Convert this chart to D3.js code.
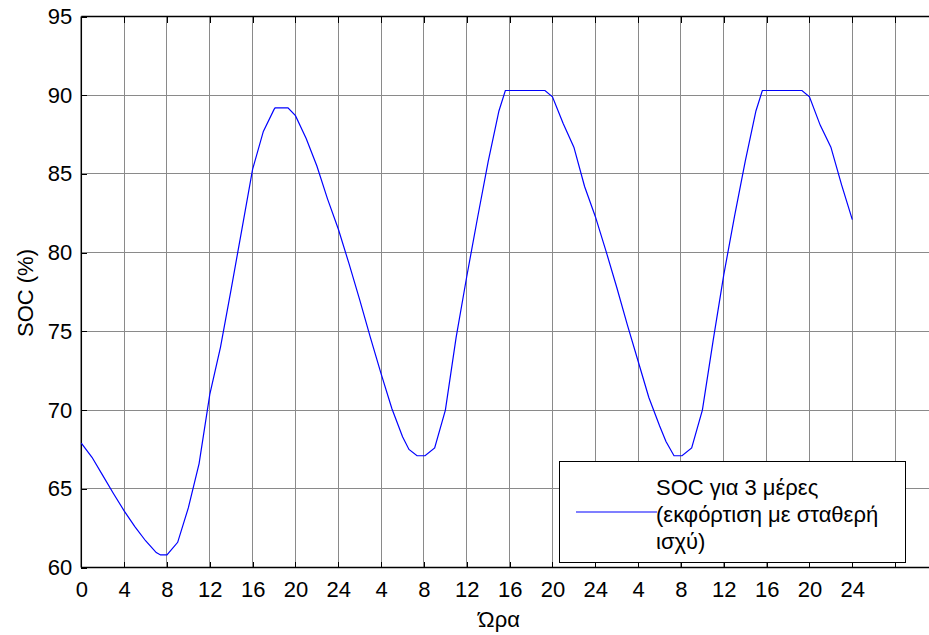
<!DOCTYPE html>
<html>
<head>
<meta charset="utf-8">
<script src="https://cdn.jsdelivr.net/npm/d3@7"></script>
<style>
  html, body { margin: 0; padding: 0; background: #fff; }
  svg { display: block; }
  text { font-family: "Liberation Sans", Arial, sans-serif; }
</style>
</head>
<body>
<script>
// ---- Data (hours over 3 days, SOC in %) ----
const hours = [0, 1, 2, 3, 4, 5, 6, 7, 7.4, 8, 9, 10, 11, 12, 13, 14, 15, 16, 17, 18, 18.1,
  19.3, 20, 21, 22, 23, 24, 25, 26, 27, 28, 29, 30, 30.6, 31.35, 32.1, 33, 34, 35, 36, 37, 38, 39, 39.6,
  43.3, 44, 45, 46, 47, 48, 49, 50, 51, 52, 53, 54, 54.6, 55.35, 56.1, 57, 58, 59, 60, 61, 62, 63, 63.6,
  67.3, 68, 69, 70, 71, 72];
const soc = [67.9, 67.0, 65.85, 64.7, 63.6, 62.6, 61.7, 60.95, 60.8, 60.8, 61.6, 63.8, 66.6, 71.0, 74.0, 77.7, 81.5, 85.3, 87.7, 89.1, 89.2,
  89.2, 88.7, 87.25, 85.5, 83.4, 81.5, 79.3, 77.0, 74.6, 72.3, 70.1, 68.3, 67.5, 67.1, 67.1, 67.6, 70.0, 74.6, 78.5, 82.2, 85.8, 89.0, 90.3,
  90.3, 89.9, 88.2, 86.7, 84.2, 82.3, 80.1, 77.8, 75.4, 73.1, 70.8, 69.0, 68.0, 67.1, 67.1, 67.6, 70.0, 74.4, 78.6, 82.3, 85.8, 89.0, 90.3,
  90.3, 89.9, 88.1, 86.7, 84.3, 82.1];

const xTickValues = [0, 4, 8, 12, 16, 20, 24, 28, 32, 36, 40, 44, 48, 52, 56, 60, 64, 68, 72, 76];
const xTickLabels = ["0", "4", "8", "12", "16", "20", "24", "4", "8", "12", "16", "20", "24", "4", "8", "12", "16", "20", "24", ""];
const yTickValues = [60, 65, 70, 75, 80, 85, 90, 95];

const seriesName = ["SOC για 3 μέρες", "(εκφόρτιση με σταθερή", "ισχύ)"];
const xLabel = "Ώρα";
const yLabel = "SOC (%)";

// ---- Layout ----
const W = 929, H = 635;
const mLeft = 81.3, mTop = 16.5, mBottom = 567.5, mRight = 945;

const x = d3.scaleLinear().domain([0, 72]).range([mLeft, 852.3]);
const y = d3.scaleLinear().domain([60, 95]).range([mBottom, mTop]);

const svg = d3.select("body").append("svg").attr("width", W).attr("height", H);

// grid
const grid = svg.append("g").attr("stroke", "#8a8a8a").attr("stroke-width", 1).attr("shape-rendering", "crispEdges");
grid.selectAll(".gx").data(xTickValues.filter(v => v > 0)).enter().append("line")
  .attr("x1", d => x(d)).attr("x2", d => x(d)).attr("y1", mTop).attr("y2", mBottom);
grid.selectAll(".gy").data(yTickValues.filter(v => v > 60 && v < 95)).enter().append("line")
  .attr("x1", mLeft).attr("x2", mRight).attr("y1", d => y(d)).attr("y2", d => y(d));

// axes
const xAxis = d3.axisBottom(x).tickValues(xTickValues)
  .tickFormat((d, i) => xTickLabels[i]).tickSizeInner(-6).tickSizeOuter(0).tickPadding(14);
const gx = svg.append("g").attr("transform", `translate(0,${mBottom})`).call(xAxis);
gx.select(".domain").remove();
gx.selectAll("line").attr("stroke", "#000").attr("shape-rendering", "crispEdges");
gx.selectAll("text").attr("font-size", 22).attr("fill", "#000");

const xAxisTop = d3.axisTop(x).tickValues(xTickValues).tickFormat("").tickSizeInner(-6).tickSizeOuter(0);
const gxt = svg.append("g").attr("transform", `translate(0,${mTop})`).call(xAxisTop);
gxt.select(".domain").remove();
gxt.selectAll("line").attr("stroke", "#000").attr("shape-rendering", "crispEdges");

const yAxis = d3.axisLeft(y).tickValues(yTickValues).tickFormat(d3.format("d"))
  .tickSizeInner(-6).tickSizeOuter(0).tickPadding(9);
const gy = svg.append("g").attr("transform", `translate(${mLeft},0)`).call(yAxis);
gy.select(".domain").remove();
gy.selectAll("line").attr("stroke", "#000").attr("shape-rendering", "crispEdges");
gy.selectAll("text").attr("font-size", 22).attr("fill", "#000");

// frame lines
const frame = svg.append("g").attr("stroke", "#000").attr("stroke-width", 1.5);
frame.append("line").attr("x1", mLeft).attr("x2", mRight).attr("y1", mBottom).attr("y2", mBottom);
frame.append("line").attr("x1", mLeft).attr("x2", mRight).attr("y1", mTop).attr("y2", mTop);
frame.append("line").attr("x1", mLeft).attr("x2", mLeft).attr("y1", mTop).attr("y2", mBottom);

// series
const line = d3.line().x((d, i) => x(hours[i])).y(d => y(d));
svg.append("path").datum(soc).attr("d", line)
  .attr("fill", "none").attr("stroke", "#0000ff").attr("stroke-width", 1.2);

// labels
svg.append("text").attr("x", 499).attr("y", 627).attr("text-anchor", "middle")
  .attr("font-size", 22).text(xLabel);
svg.append("text").attr("transform", `translate(33,293) rotate(-90)`).attr("text-anchor", "middle")
  .attr("font-size", 22).text(yLabel);

// legend
const lg = svg.append("g");
lg.append("rect").attr("x", 559.5).attr("y", 461.5).attr("width", 346).attr("height", 101)
  .attr("fill", "#fff").attr("stroke", "#000").attr("stroke-width", 1);
lg.append("line").attr("x1", 576).attr("x2", 657).attr("y1", 512).attr("y2", 512)
  .attr("stroke", "#0000ff").attr("stroke-width", 1.2);
lg.selectAll(".lt").data(seriesName).enter().append("text")
  .attr("x", 656).attr("y", (d, i) => 495 + i * 27).attr("font-size", 22).text(d => d);
</script>
</body>
</html>
